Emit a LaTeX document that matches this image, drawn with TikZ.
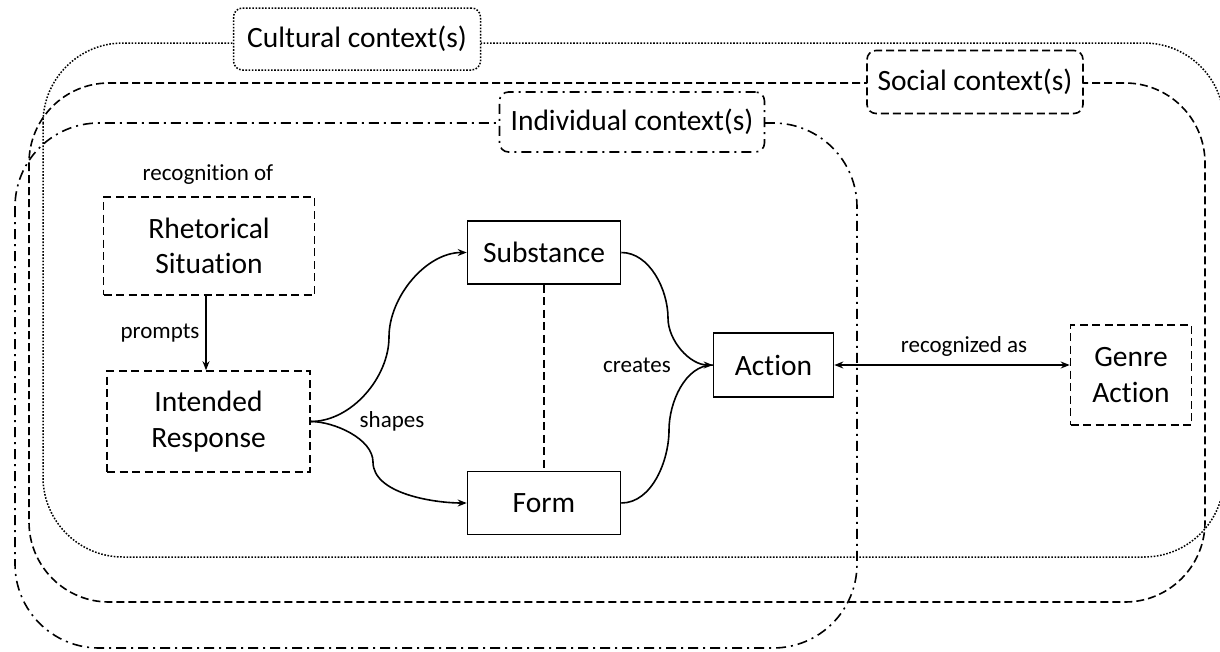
\documentclass[tikz,border=0pt]{standalone}
\usepackage{fontspec}
\setmainfont{Carlito}[Ligatures=NoCommon]
\usetikzlibrary{arrows.meta}
\begin{document}
\begin{tikzpicture}[x=1pt,y=-1pt,
  big/.style={font=\fontsize{29.5}{35.5}\selectfont},
  small/.style={font=\fontsize{23}{28}\selectfont},
  box/.style={draw,line width=1.6pt,big,align=center,inner sep=0pt,fill=white},
  dbox/.style={box,dash pattern=on 8pt off 4.5pt},
  ctxdot/.style={line width=1.5pt,dash pattern=on 1.6pt off 1.6pt},
  ctxdash/.style={line width=1.6pt,dash pattern=on 8pt off 4pt},
  ctxdd/.style={line width=1.6pt,dash pattern=on 10pt off 5pt on 2pt off 5pt},
  lab/.style={draw,rounded corners=9pt,fill=white,big,inner sep=0pt},
  conn/.style={line width=1.6pt,-{Stealth[length=9pt,width=7pt]}},
  plain/.style={line width=1.6pt},
]
\useasboundingbox (0,0) rectangle (1220,651);
\clip (0,0) rectangle (1220,651);
% context frames
\draw[ctxdot,rounded corners=80pt] (43,43) rectangle (1224,557);
\draw[ctxdash,rounded corners=80pt] (29,83) rectangle (1205,602);
\draw[ctxdd,rounded corners=84pt] (15,123) rectangle (857,648);
% context labels
\node[lab,ctxdot,minimum width=247pt,minimum height=62pt] (cult) at (357,39) {Cultural context(s)};
\node[lab,ctxdash,minimum width=216pt,minimum height=63pt] (soc) at (975,82) {Social context(s)};
\node[lab,ctxdd,minimum width=265pt,minimum height=60pt] (ind) at (632,122) {Individual context(s)};
% main nodes
\node[dbox,minimum width=211pt,minimum height=98pt] (rs) at (209,246) {Rhetorical\\Situation};
\node[dbox,minimum width=203pt,minimum height=101pt] (ir) at (208.5,421.5) {Intended\\Response};
\node[box,minimum width=153pt,minimum height=63pt] (sub) at (544,252.5) {Substance};
\node[box,minimum width=153pt,minimum height=63pt] (form) at (544,503) {Form};
\node[box,minimum width=120pt,minimum height=64pt] (act) at (773.5,365) {Action};
\node[dbox,minimum width=121pt,minimum height=100pt] (gen) at (1131,375) {Genre\\Action};
% text labels
\node[small] (recog) at (208,175) {recognition of};
\node[small] (prompts) at (160,333) {prompts};
\node[small] (shapes) at (392,421) {shapes};
\node[small] (creates) at (637,365) {creates};
\node[small] (recas) at (964,346) {recognized as};
% connectors
\coordinate (m1) at (389,337);
\coordinate (m2) at (373,462);
\coordinate (m3) at (668,318);
\coordinate (m4) at (669,430);
\draw[conn] (rs.south -| 206,0) -- (ir.north -| 206,0);
\draw[conn] (ir.east) to[out=0,in=-90,looseness=0.9] (m1) to[out=90,in=180,looseness=0.9] (sub.west);
\draw[conn] (ir.east) to[out=0,in=90,looseness=0.8] (m2) to[out=-90,in=180,looseness=0.8] (form.west);
\draw[conn] (sub.east) to[out=0,in=90,looseness=0.9] (m3) to[out=-90,in=180,looseness=0.9] (act.west);
\draw[plain] (form.east) to[out=0,in=-90,looseness=0.9] (m4) to[out=90,in=180,looseness=0.9] (act.west);
\draw[plain,dash pattern=on 8pt off 4.5pt] (sub.south) -- (form.north);
\draw[line width=1.6pt,{Stealth[length=9pt,width=7pt]}-{Stealth[length=9pt,width=7pt]}] (act.east) -- (gen.west |- act.east);
\end{tikzpicture}
\end{document}
